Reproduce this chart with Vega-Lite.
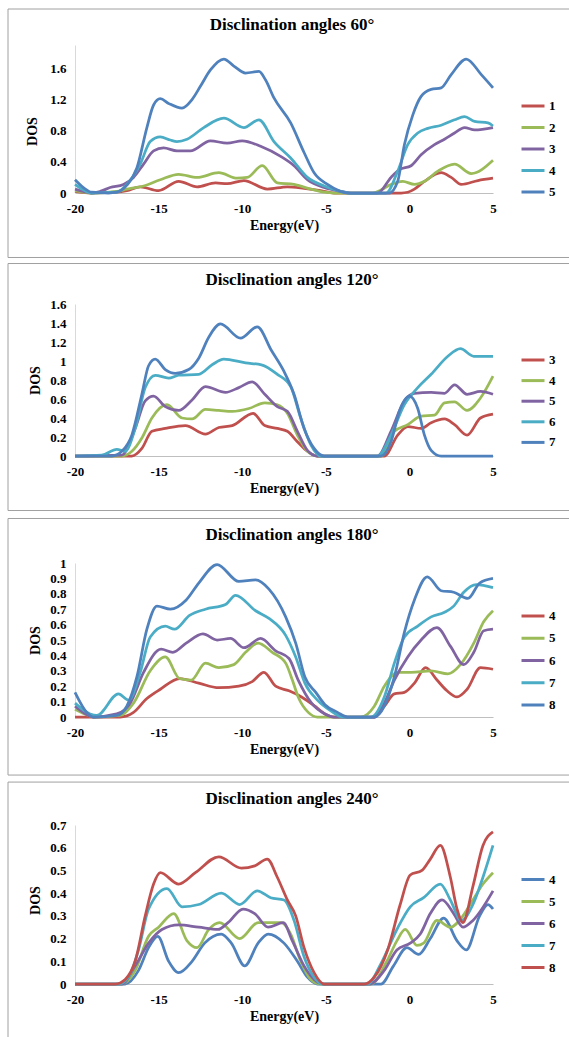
{
"$schema": "https://vega.github.io/schema/vega-lite/v6.json",
"padding": {"left": 7, "top": 8, "right": 0, "bottom": 0},
"background": "white",
"spacing": 5,
"config": {
  "font": "Liberation Serif",
  "view": {"stroke": null},
  "axis": {"grid": false, "ticks": false, "tickSize": 0, "labelFont": "Liberation Serif", "labelFontWeight": "bold", "labelFontSize": 13, "labelColor": "#000", "titleFont": "Liberation Serif", "titleFontWeight": "bold", "titleFontSize": 14, "titleColor": "#000", "domainColor": "#d9d9d9", "labelPadding": 9},
  "axisX": {"titlePadding": 3, "domainColor": "#bfbfbf", "labelFlush": false},
  "title": {"font": "Liberation Serif", "fontSize": 17, "fontWeight": "bold", "color": "#000", "anchor": "middle"},
  "legend": {"orient": "none", "padding": 0, "symbolType": "stroke", "symbolStrokeWidth": 3, "symbolSize": 529, "labelFont": "Liberation Serif", "labelFontWeight": "bold", "labelFontSize": 13, "labelColor": "#000", "labelOffset": 3, "rowPadding": 1.5}
},
"resolve": {"scale": {"color": "independent", "x": "independent", "y": "independent"}, "legend": {"color": "independent"}},
"datasets": {
"p60": [
{"s":"1","e":-20,"v":0.02},{"s":"1","e":-19,"v":0},{"s":"1","e":-17.5,"v":0.01},{"s":"1","e":-16.9,"v":0.03},{"s":"1","e":-16.1,"v":0.08},{"s":"1","e":-15,"v":0.03},{"s":"1","e":-13.8,"v":0.15},{"s":"1","e":-12.7,"v":0.08},{"s":"1","e":-11.6,"v":0.13},{"s":"1","e":-10.9,"v":0.12},{"s":"1","e":-9.9,"v":0.16},{"s":"1","e":-8.5,"v":0.05},{"s":"1","e":-7.3,"v":0.08},{"s":"1","e":-6.3,"v":0.06},{"s":"1","e":-5.3,"v":0.03},{"s":"1","e":-4.5,"v":0},{"s":"1","e":-0.5,"v":0},{"s":"1","e":-0.1,"v":0.01},{"s":"1","e":0.3,"v":0.05},{"s":"1","e":0.9,"v":0.15},{"s":"1","e":1.9,"v":0.26},{"s":"1","e":2.5,"v":0.2},{"s":"1","e":3.1,"v":0.11},{"s":"1","e":4.1,"v":0.16},{"s":"1","e":5,"v":0.19},
{"s":"2","e":-20,"v":0.03},{"s":"2","e":-19,"v":0},{"s":"2","e":-17.5,"v":0.02},{"s":"2","e":-16.9,"v":0.05},{"s":"2","e":-15.9,"v":0.09},{"s":"2","e":-14.9,"v":0.17},{"s":"2","e":-13.8,"v":0.24},{"s":"2","e":-12.7,"v":0.2},{"s":"2","e":-11.4,"v":0.26},{"s":"2","e":-10.3,"v":0.19},{"s":"2","e":-9.7,"v":0.2},{"s":"2","e":-8.8,"v":0.35},{"s":"2","e":-7.9,"v":0.13},{"s":"2","e":-6.9,"v":0.11},{"s":"2","e":-5.9,"v":0.05},{"s":"2","e":-5.1,"v":0.01},{"s":"2","e":-4.5,"v":0},{"s":"2","e":-2.2,"v":0},{"s":"2","e":-1.7,"v":0.04},{"s":"2","e":-1.1,"v":0.11},{"s":"2","e":-0.4,"v":0.15},{"s":"2","e":0.3,"v":0.11},{"s":"2","e":0.9,"v":0.15},{"s":"2","e":1.7,"v":0.28},{"s":"2","e":2.7,"v":0.37},{"s":"2","e":3.7,"v":0.25},{"s":"2","e":5,"v":0.42},
{"s":"3","e":-20,"v":0.05},{"s":"3","e":-19.5,"v":0.02},{"s":"3","e":-19,"v":0},{"s":"3","e":-18.5,"v":0.02},{"s":"3","e":-17.9,"v":0.07},{"s":"3","e":-17.1,"v":0.11},{"s":"3","e":-16.5,"v":0.2},{"s":"3","e":-15.9,"v":0.37},{"s":"3","e":-15.3,"v":0.54},{"s":"3","e":-14.7,"v":0.58},{"s":"3","e":-13.9,"v":0.54},{"s":"3","e":-13.1,"v":0.54},{"s":"3","e":-11.9,"v":0.67},{"s":"3","e":-10.9,"v":0.64},{"s":"3","e":-10,"v":0.67},{"s":"3","e":-8.9,"v":0.6},{"s":"3","e":-7.7,"v":0.47},{"s":"3","e":-6.9,"v":0.35},{"s":"3","e":-6.1,"v":0.17},{"s":"3","e":-5.1,"v":0.07},{"s":"3","e":-4.1,"v":0.02},{"s":"3","e":-3.5,"v":0},{"s":"3","e":-1.9,"v":0},{"s":"3","e":-1.1,"v":0.2},{"s":"3","e":-0.6,"v":0.3},{"s":"3","e":0.1,"v":0.35},{"s":"3","e":0.7,"v":0.49},{"s":"3","e":1.5,"v":0.62},{"s":"3","e":2.1,"v":0.69},{"s":"3","e":2.7,"v":0.77},{"s":"3","e":3.3,"v":0.84},{"s":"3","e":3.9,"v":0.81},{"s":"3","e":5,"v":0.84},
{"s":"4","e":-20,"v":0.11},{"s":"4","e":-19.5,"v":0.04},{"s":"4","e":-19,"v":0},{"s":"4","e":-17.5,"v":0.01},{"s":"4","e":-16.9,"v":0.11},{"s":"4","e":-16.1,"v":0.37},{"s":"4","e":-15.5,"v":0.66},{"s":"4","e":-14.9,"v":0.72},{"s":"4","e":-14.3,"v":0.68},{"s":"4","e":-13.9,"v":0.66},{"s":"4","e":-13.3,"v":0.69},{"s":"4","e":-12.3,"v":0.84},{"s":"4","e":-11.1,"v":0.96},{"s":"4","e":-9.9,"v":0.84},{"s":"4","e":-9,"v":0.94},{"s":"4","e":-8.1,"v":0.66},{"s":"4","e":-7.1,"v":0.45},{"s":"4","e":-6.1,"v":0.2},{"s":"4","e":-5.1,"v":0.09},{"s":"4","e":-4.1,"v":0.02},{"s":"4","e":-3.6,"v":0},{"s":"4","e":-1.4,"v":0},{"s":"4","e":-0.7,"v":0.28},{"s":"4","e":-0.1,"v":0.62},{"s":"4","e":0.5,"v":0.77},{"s":"4","e":1.1,"v":0.83},{"s":"4","e":1.9,"v":0.87},{"s":"4","e":2.7,"v":0.94},{"s":"4","e":3.3,"v":0.98},{"s":"4","e":3.9,"v":0.92},{"s":"4","e":4.7,"v":0.9},{"s":"4","e":5,"v":0.86},
{"s":"5","e":-20,"v":0.17},{"s":"5","e":-19.5,"v":0.07},{"s":"5","e":-19,"v":0.01},{"s":"5","e":-18,"v":0},{"s":"5","e":-17.5,"v":0.01},{"s":"5","e":-16.9,"v":0.1},{"s":"5","e":-16.3,"v":0.32},{"s":"5","e":-15.7,"v":0.84},{"s":"5","e":-15.3,"v":1.13},{"s":"5","e":-14.9,"v":1.21},{"s":"5","e":-14.4,"v":1.15},{"s":"5","e":-13.6,"v":1.09},{"s":"5","e":-13,"v":1.2},{"s":"5","e":-12.5,"v":1.37},{"s":"5","e":-11.9,"v":1.58},{"s":"5","e":-11.1,"v":1.72},{"s":"5","e":-10.5,"v":1.63},{"s":"5","e":-9.8,"v":1.54},{"s":"5","e":-9,"v":1.56},{"s":"5","e":-8.6,"v":1.45},{"s":"5","e":-8.1,"v":1.22},{"s":"5","e":-7.1,"v":0.9},{"s":"5","e":-6.3,"v":0.52},{"s":"5","e":-5.7,"v":0.26},{"s":"5","e":-4.9,"v":0.11},{"s":"5","e":-4.1,"v":0.02},{"s":"5","e":-3.7,"v":0},{"s":"5","e":-1.2,"v":0},{"s":"5","e":-0.7,"v":0.15},{"s":"5","e":-0.3,"v":0.62},{"s":"5","e":0.2,"v":1},{"s":"5","e":0.7,"v":1.24},{"s":"5","e":1.3,"v":1.33},{"s":"5","e":1.9,"v":1.35},{"s":"5","e":2.5,"v":1.52},{"s":"5","e":3.4,"v":1.72},{"s":"5","e":4.3,"v":1.52},{"s":"5","e":5,"v":1.35}
],
"p120": [
{"s":"3","e":-20,"v":0},{"s":"3","e":-16.6,"v":0},{"s":"3","e":-16,"v":0.08},{"s":"3","e":-15.4,"v":0.26},{"s":"3","e":-14.6,"v":0.29},{"s":"3","e":-13.4,"v":0.32},{"s":"3","e":-12.2,"v":0.23},{"s":"3","e":-11.4,"v":0.3},{"s":"3","e":-10.6,"v":0.32},{"s":"3","e":-9.35,"v":0.45},{"s":"3","e":-8.65,"v":0.32},{"s":"3","e":-7.9,"v":0.29},{"s":"3","e":-7.3,"v":0.26},{"s":"3","e":-6.7,"v":0.15},{"s":"3","e":-6.1,"v":0.05},{"s":"3","e":-5.5,"v":0},{"s":"3","e":-1.5,"v":0},{"s":"3","e":-0.7,"v":0.22},{"s":"3","e":-0.1,"v":0.31},{"s":"3","e":0.7,"v":0.29},{"s":"3","e":1.3,"v":0.35},{"s":"3","e":2.1,"v":0.39},{"s":"3","e":2.7,"v":0.33},{"s":"3","e":3.45,"v":0.22},{"s":"3","e":4.25,"v":0.4},{"s":"3","e":5,"v":0.44},
{"s":"4","e":-20,"v":0},{"s":"4","e":-17.2,"v":0},{"s":"4","e":-16.6,"v":0.05},{"s":"4","e":-16,"v":0.19},{"s":"4","e":-15.4,"v":0.4},{"s":"4","e":-14.5,"v":0.54},{"s":"4","e":-13.6,"v":0.4},{"s":"4","e":-13,"v":0.39},{"s":"4","e":-12.2,"v":0.49},{"s":"4","e":-11.4,"v":0.48},{"s":"4","e":-10.6,"v":0.47},{"s":"4","e":-9.6,"v":0.5},{"s":"4","e":-8.65,"v":0.56},{"s":"4","e":-7.9,"v":0.54},{"s":"4","e":-7.3,"v":0.45},{"s":"4","e":-6.7,"v":0.22},{"s":"4","e":-6.1,"v":0.05},{"s":"4","e":-5.5,"v":0},{"s":"4","e":-1.7,"v":0},{"s":"4","e":-0.9,"v":0.26},{"s":"4","e":-0.1,"v":0.33},{"s":"4","e":0.7,"v":0.42},{"s":"4","e":1.5,"v":0.43},{"s":"4","e":2.1,"v":0.56},{"s":"4","e":2.7,"v":0.57},{"s":"4","e":3.45,"v":0.48},{"s":"4","e":4.25,"v":0.61},{"s":"4","e":5,"v":0.84},
{"s":"5","e":-20,"v":0},{"s":"5","e":-17.2,"v":0.01},{"s":"5","e":-16.4,"v":0.29},{"s":"5","e":-15.8,"v":0.58},{"s":"5","e":-15.3,"v":0.63},{"s":"5","e":-14.6,"v":0.52},{"s":"5","e":-13.8,"v":0.48},{"s":"5","e":-13,"v":0.59},{"s":"5","e":-12.2,"v":0.73},{"s":"5","e":-11,"v":0.67},{"s":"5","e":-10.2,"v":0.72},{"s":"5","e":-9.4,"v":0.78},{"s":"5","e":-8.65,"v":0.65},{"s":"5","e":-7.9,"v":0.52},{"s":"5","e":-7.3,"v":0.47},{"s":"5","e":-6.7,"v":0.26},{"s":"5","e":-6.1,"v":0.06},{"s":"5","e":-5.5,"v":0},{"s":"5","e":-1.9,"v":0},{"s":"5","e":-1.1,"v":0.26},{"s":"5","e":-0.3,"v":0.58},{"s":"5","e":0.3,"v":0.66},{"s":"5","e":1.3,"v":0.67},{"s":"5","e":2.1,"v":0.66},{"s":"5","e":2.7,"v":0.75},{"s":"5","e":3.45,"v":0.65},{"s":"5","e":4.25,"v":0.68},{"s":"5","e":5,"v":0.65},
{"s":"6","e":-20,"v":0},{"s":"6","e":-18.4,"v":0.01},{"s":"6","e":-17.5,"v":0.07},{"s":"6","e":-17,"v":0.05},{"s":"6","e":-16.4,"v":0.29},{"s":"6","e":-15.8,"v":0.72},{"s":"6","e":-15.2,"v":0.85},{"s":"6","e":-14.4,"v":0.82},{"s":"6","e":-13.8,"v":0.85},{"s":"6","e":-12.6,"v":0.86},{"s":"6","e":-11.8,"v":0.96},{"s":"6","e":-11.1,"v":1.02},{"s":"6","e":-9.8,"v":0.98},{"s":"6","e":-8.85,"v":0.96},{"s":"6","e":-7.9,"v":0.86},{"s":"6","e":-7.1,"v":0.73},{"s":"6","e":-6.5,"v":0.4},{"s":"6","e":-5.9,"v":0.12},{"s":"6","e":-5.3,"v":0},{"s":"6","e":-1.9,"v":0},{"s":"6","e":-1.1,"v":0.22},{"s":"6","e":-0.3,"v":0.54},{"s":"6","e":0.5,"v":0.72},{"s":"6","e":1.3,"v":0.86},{"s":"6","e":2.3,"v":1.05},{"s":"6","e":3.05,"v":1.13},{"s":"6","e":3.85,"v":1.05},{"s":"6","e":5,"v":1.05},
{"s":"7","e":-20,"v":0},{"s":"7","e":-17.8,"v":0},{"s":"7","e":-17.2,"v":0.05},{"s":"7","e":-16.6,"v":0.22},{"s":"7","e":-16,"v":0.65},{"s":"7","e":-15.6,"v":0.95},{"s":"7","e":-15.2,"v":1.02},{"s":"7","e":-14.6,"v":0.91},{"s":"7","e":-14,"v":0.87},{"s":"7","e":-13.2,"v":0.91},{"s":"7","e":-12.6,"v":1.03},{"s":"7","e":-12,"v":1.25},{"s":"7","e":-11.3,"v":1.39},{"s":"7","e":-10.1,"v":1.24},{"s":"7","e":-9.1,"v":1.36},{"s":"7","e":-8.25,"v":1.11},{"s":"7","e":-7.5,"v":0.89},{"s":"7","e":-6.9,"v":0.65},{"s":"7","e":-6.3,"v":0.29},{"s":"7","e":-5.7,"v":0.08},{"s":"7","e":-5.1,"v":0},{"s":"7","e":-1.7,"v":0},{"s":"7","e":-1.1,"v":0.15},{"s":"7","e":-0.6,"v":0.47},{"s":"7","e":0,"v":0.63},{"s":"7","e":0.5,"v":0.5},{"s":"7","e":0.9,"v":0.22},{"s":"7","e":1.3,"v":0.06},{"s":"7","e":1.9,"v":0},{"s":"7","e":5,"v":0}
],
"p180": [
{"s":"4","e":-20,"v":0},{"s":"4","e":-17.3,"v":0},{"s":"4","e":-16.5,"v":0.03},{"s":"4","e":-15.7,"v":0.12},{"s":"4","e":-14.9,"v":0.18},{"s":"4","e":-13.75,"v":0.25},{"s":"4","e":-12.6,"v":0.22},{"s":"4","e":-11.4,"v":0.19},{"s":"4","e":-10.2,"v":0.2},{"s":"4","e":-9.4,"v":0.23},{"s":"4","e":-8.7,"v":0.29},{"s":"4","e":-8,"v":0.2},{"s":"4","e":-7.2,"v":0.17},{"s":"4","e":-6.45,"v":0.13},{"s":"4","e":-5.65,"v":0.07},{"s":"4","e":-5.05,"v":0.02},{"s":"4","e":-4.5,"v":0},{"s":"4","e":-2.1,"v":0},{"s":"4","e":-1.5,"v":0.07},{"s":"4","e":-0.9,"v":0.15},{"s":"4","e":-0.3,"v":0.16},{"s":"4","e":0.3,"v":0.22},{"s":"4","e":0.97,"v":0.32},{"s":"4","e":1.65,"v":0.24},{"s":"4","e":2.25,"v":0.17},{"s":"4","e":2.85,"v":0.13},{"s":"4","e":3.45,"v":0.18},{"s":"4","e":4.25,"v":0.32},{"s":"4","e":5,"v":0.31},
{"s":"5","e":-20,"v":0.05},{"s":"5","e":-19.2,"v":0.01},{"s":"5","e":-18.9,"v":0},{"s":"5","e":-17.3,"v":0.01},{"s":"5","e":-16.5,"v":0.09},{"s":"5","e":-15.5,"v":0.3},{"s":"5","e":-14.6,"v":0.39},{"s":"5","e":-13.75,"v":0.25},{"s":"5","e":-13.05,"v":0.24},{"s":"5","e":-12.2,"v":0.35},{"s":"5","e":-11.4,"v":0.32},{"s":"5","e":-10.5,"v":0.34},{"s":"5","e":-9.8,"v":0.42},{"s":"5","e":-9.05,"v":0.48},{"s":"5","e":-8.2,"v":0.42},{"s":"5","e":-7.4,"v":0.35},{"s":"5","e":-7,"v":0.24},{"s":"5","e":-6.65,"v":0.13},{"s":"5","e":-6.05,"v":0.03},{"s":"5","e":-5.5,"v":0},{"s":"5","e":-2.9,"v":0},{"s":"5","e":-2.1,"v":0.07},{"s":"5","e":-1.5,"v":0.2},{"s":"5","e":-0.7,"v":0.29},{"s":"5","e":0.1,"v":0.29},{"s":"5","e":1.3,"v":0.3},{"s":"5","e":2.3,"v":0.28},{"s":"5","e":3.05,"v":0.34},{"s":"5","e":3.85,"v":0.48},{"s":"5","e":4.45,"v":0.62},{"s":"5","e":5,"v":0.69},
{"s":"6","e":-20,"v":0.07},{"s":"6","e":-19.2,"v":0.01},{"s":"6","e":-18.9,"v":0},{"s":"6","e":-17.5,"v":0.02},{"s":"6","e":-16.7,"v":0.09},{"s":"6","e":-15.9,"v":0.29},{"s":"6","e":-14.85,"v":0.44},{"s":"6","e":-14.15,"v":0.42},{"s":"6","e":-13.35,"v":0.48},{"s":"6","e":-12.35,"v":0.54},{"s":"6","e":-11.5,"v":0.5},{"s":"6","e":-10.7,"v":0.51},{"s":"6","e":-9.9,"v":0.45},{"s":"6","e":-8.9,"v":0.51},{"s":"6","e":-8,"v":0.43},{"s":"6","e":-7.2,"v":0.38},{"s":"6","e":-6.65,"v":0.24},{"s":"6","e":-5.85,"v":0.09},{"s":"6","e":-5.05,"v":0.02},{"s":"6","e":-4.5,"v":0},{"s":"6","e":-2.1,"v":0},{"s":"6","e":-1.5,"v":0.09},{"s":"6","e":-0.9,"v":0.24},{"s":"6","e":-0.1,"v":0.39},{"s":"6","e":0.7,"v":0.5},{"s":"6","e":1.65,"v":0.58},{"s":"6","e":2.45,"v":0.46},{"s":"6","e":3.25,"v":0.34},{"s":"6","e":3.85,"v":0.42},{"s":"6","e":4.45,"v":0.56},{"s":"6","e":5,"v":0.57},
{"s":"7","e":-20,"v":0.09},{"s":"7","e":-19.1,"v":0.02},{"s":"7","e":-18.7,"v":0.01},{"s":"7","e":-17.4,"v":0.15},{"s":"7","e":-16.8,"v":0.11},{"s":"7","e":-16.1,"v":0.29},{"s":"7","e":-15.5,"v":0.52},{"s":"7","e":-14.6,"v":0.59},{"s":"7","e":-14.05,"v":0.57},{"s":"7","e":-13.15,"v":0.66},{"s":"7","e":-12.2,"v":0.7},{"s":"7","e":-11,"v":0.73},{"s":"7","e":-10.4,"v":0.79},{"s":"7","e":-9.2,"v":0.69},{"s":"7","e":-8.4,"v":0.64},{"s":"7","e":-7.4,"v":0.53},{"s":"7","e":-6.8,"v":0.39},{"s":"7","e":-6.25,"v":0.22},{"s":"7","e":-5.5,"v":0.11},{"s":"7","e":-4.7,"v":0.04},{"s":"7","e":-4,"v":0},{"s":"7","e":-2.3,"v":0},{"s":"7","e":-1.5,"v":0.13},{"s":"7","e":-0.9,"v":0.35},{"s":"7","e":-0.3,"v":0.52},{"s":"7","e":0.5,"v":0.59},{"s":"7","e":1.3,"v":0.65},{"s":"7","e":2.1,"v":0.68},{"s":"7","e":2.65,"v":0.72},{"s":"7","e":3.25,"v":0.81},{"s":"7","e":4,"v":0.86},{"s":"7","e":5,"v":0.84},
{"s":"8","e":-20,"v":0.16},{"s":"8","e":-19.3,"v":0.03},{"s":"8","e":-18.9,"v":0},{"s":"8","e":-17.5,"v":0.01},{"s":"8","e":-16.9,"v":0.07},{"s":"8","e":-16.3,"v":0.26},{"s":"8","e":-15.7,"v":0.57},{"s":"8","e":-15.1,"v":0.72},{"s":"8","e":-14.3,"v":0.7},{"s":"8","e":-13.35,"v":0.76},{"s":"8","e":-12.6,"v":0.87},{"s":"8","e":-11.5,"v":0.99},{"s":"8","e":-10.2,"v":0.88},{"s":"8","e":-9.2,"v":0.89},{"s":"8","e":-8.4,"v":0.83},{"s":"8","e":-7.4,"v":0.65},{"s":"8","e":-6.8,"v":0.48},{"s":"8","e":-6.25,"v":0.26},{"s":"8","e":-5.6,"v":0.16},{"s":"8","e":-5.05,"v":0.08},{"s":"8","e":-4.3,"v":0.03},{"s":"8","e":-3.7,"v":0},{"s":"8","e":-2.1,"v":0},{"s":"8","e":-1.5,"v":0.07},{"s":"8","e":-0.9,"v":0.26},{"s":"8","e":-0.3,"v":0.55},{"s":"8","e":0.3,"v":0.76},{"s":"8","e":1.07,"v":0.91},{"s":"8","e":1.9,"v":0.82},{"s":"8","e":2.65,"v":0.81},{"s":"8","e":3.5,"v":0.77},{"s":"8","e":4.2,"v":0.87},{"s":"8","e":5,"v":0.9}
],
"p240": [
{"s":"4","e":-20,"v":0},{"s":"4","e":-17,"v":0},{"s":"4","e":-16.2,"v":0.06},{"s":"4","e":-15.6,"v":0.16},{"s":"4","e":-15.05,"v":0.21},{"s":"4","e":-14.4,"v":0.1},{"s":"4","e":-13.8,"v":0.05},{"s":"4","e":-13,"v":0.1},{"s":"4","e":-12.25,"v":0.18},{"s":"4","e":-11.25,"v":0.22},{"s":"4","e":-10.65,"v":0.18},{"s":"4","e":-9.85,"v":0.08},{"s":"4","e":-9.05,"v":0.18},{"s":"4","e":-8.45,"v":0.22},{"s":"4","e":-7.5,"v":0.18},{"s":"4","e":-6.7,"v":0.1},{"s":"4","e":-6.1,"v":0.03},{"s":"4","e":-5.5,"v":0},{"s":"4","e":-1.7,"v":0},{"s":"4","e":-0.95,"v":0.08},{"s":"4","e":-0.15,"v":0.16},{"s":"4","e":0.55,"v":0.13},{"s":"4","e":1.25,"v":0.2},{"s":"4","e":2.05,"v":0.29},{"s":"4","e":2.85,"v":0.19},{"s":"4","e":3.4,"v":0.15},{"s":"4","e":4.2,"v":0.3},{"s":"4","e":4.7,"v":0.35},{"s":"4","e":5,"v":0.33},
{"s":"5","e":-20,"v":0},{"s":"5","e":-17.2,"v":0},{"s":"5","e":-16.4,"v":0.06},{"s":"5","e":-15.6,"v":0.21},{"s":"5","e":-15,"v":0.25},{"s":"5","e":-14.1,"v":0.31},{"s":"5","e":-13.3,"v":0.19},{"s":"5","e":-12.7,"v":0.16},{"s":"5","e":-12,"v":0.24},{"s":"5","e":-11.35,"v":0.27},{"s":"5","e":-10.15,"v":0.2},{"s":"5","e":-9.05,"v":0.27},{"s":"5","e":-7.65,"v":0.27},{"s":"5","e":-7.1,"v":0.22},{"s":"5","e":-6.5,"v":0.1},{"s":"5","e":-5.9,"v":0.02},{"s":"5","e":-5.3,"v":0},{"s":"5","e":-2.3,"v":0},{"s":"5","e":-1.35,"v":0.1},{"s":"5","e":-0.75,"v":0.19},{"s":"5","e":-0.25,"v":0.24},{"s":"5","e":0.45,"v":0.17},{"s":"5","e":0.85,"v":0.18},{"s":"5","e":1.65,"v":0.28},{"s":"5","e":2.45,"v":0.25},{"s":"5","e":3.2,"v":0.3},{"s":"5","e":3.8,"v":0.37},{"s":"5","e":4.4,"v":0.44},{"s":"5","e":5,"v":0.49},
{"s":"6","e":-20,"v":0},{"s":"6","e":-17.2,"v":0},{"s":"6","e":-16.4,"v":0.08},{"s":"6","e":-15.6,"v":0.18},{"s":"6","e":-14.8,"v":0.24},{"s":"6","e":-13.8,"v":0.26},{"s":"6","e":-12.6,"v":0.25},{"s":"6","e":-11.45,"v":0.24},{"s":"6","e":-10.85,"v":0.27},{"s":"6","e":-9.95,"v":0.33},{"s":"6","e":-9.25,"v":0.31},{"s":"6","e":-8.45,"v":0.25},{"s":"6","e":-7.55,"v":0.27},{"s":"6","e":-7,"v":0.19},{"s":"6","e":-6.3,"v":0.08},{"s":"6","e":-5.7,"v":0.02},{"s":"6","e":-5.1,"v":0},{"s":"6","e":-2.4,"v":0},{"s":"6","e":-1.5,"v":0.06},{"s":"6","e":-0.75,"v":0.15},{"s":"6","e":0.05,"v":0.18},{"s":"6","e":0.65,"v":0.22},{"s":"6","e":1.25,"v":0.31},{"s":"6","e":1.95,"v":0.37},{"s":"6","e":2.65,"v":0.31},{"s":"6","e":3.2,"v":0.25},{"s":"6","e":3.8,"v":0.28},{"s":"6","e":5,"v":0.41},
{"s":"7","e":-20,"v":0},{"s":"7","e":-17.4,"v":0},{"s":"7","e":-16.8,"v":0.03},{"s":"7","e":-16.2,"v":0.15},{"s":"7","e":-15.6,"v":0.33},{"s":"7","e":-14.5,"v":0.42},{"s":"7","e":-13.6,"v":0.34},{"s":"7","e":-12.6,"v":0.35},{"s":"7","e":-11.25,"v":0.4},{"s":"7","e":-10.15,"v":0.35},{"s":"7","e":-9.1,"v":0.41},{"s":"7","e":-8.3,"v":0.38},{"s":"7","e":-7.5,"v":0.37},{"s":"7","e":-6.9,"v":0.28},{"s":"7","e":-6.3,"v":0.12},{"s":"7","e":-5.7,"v":0.03},{"s":"7","e":-5.2,"v":0},{"s":"7","e":-2.5,"v":0},{"s":"7","e":-1.7,"v":0.09},{"s":"7","e":-0.75,"v":0.24},{"s":"7","e":0.05,"v":0.34},{"s":"7","e":0.85,"v":0.38},{"s":"7","e":1.85,"v":0.44},{"s":"7","e":2.45,"v":0.37},{"s":"7","e":3.1,"v":0.28},{"s":"7","e":3.8,"v":0.35},{"s":"7","e":4.4,"v":0.47},{"s":"7","e":5,"v":0.61},
{"s":"8","e":-20,"v":0},{"s":"8","e":-17.6,"v":0},{"s":"8","e":-17,"v":0.02},{"s":"8","e":-16.4,"v":0.1},{"s":"8","e":-15.8,"v":0.3},{"s":"8","e":-15.3,"v":0.44},{"s":"8","e":-14.9,"v":0.49},{"s":"8","e":-13.8,"v":0.44},{"s":"8","e":-12.8,"v":0.49},{"s":"8","e":-11.4,"v":0.56},{"s":"8","e":-10.05,"v":0.51},{"s":"8","e":-9.25,"v":0.52},{"s":"8","e":-8.5,"v":0.55},{"s":"8","e":-7.9,"v":0.47},{"s":"8","e":-7.3,"v":0.37},{"s":"8","e":-6.8,"v":0.3},{"s":"8","e":-6.3,"v":0.16},{"s":"8","e":-5.7,"v":0.05},{"s":"8","e":-5.1,"v":0},{"s":"8","e":-2.7,"v":0},{"s":"8","e":-2.1,"v":0.03},{"s":"8","e":-1.3,"v":0.15},{"s":"8","e":-0.55,"v":0.35},{"s":"8","e":0.05,"v":0.48},{"s":"8","e":0.75,"v":0.5},{"s":"8","e":1.25,"v":0.55},{"s":"8","e":1.85,"v":0.61},{"s":"8","e":2.45,"v":0.47},{"s":"8","e":2.85,"v":0.33},{"s":"8","e":3.2,"v":0.27},{"s":"8","e":3.8,"v":0.43},{"s":"8","e":4.4,"v":0.61},{"s":"8","e":5,"v":0.67}
]
},
"vconcat": [
{
  "title": {"text": "Disclination angles 60°", "offset": 0, "dx": 8, "dy": 33.5, "baseline": "middle"},
  "width": 418, "height": 148,
  "layer": [
    {"data": {"values": [{}]}, "mark": {"type": "rect", "fill": "white", "fillOpacity": 0, "stroke": "#a0a0a0", "strokeWidth": 1},
     "encoding": {"x": {"datum": -24.007, "type": "quantitative", "scale": {"domain": [-20, 5], "nice": false, "zero": false}, "axis": {"title": "Energy(eV)", "values": [-20, -15, -10, -5, 0, 5], "labelExpr": "datum.value < 0 ? '-' + abs(datum.value) : '' + datum.value"}}, "x2": {"datum": 9.94},
                  "y": {"datum": 2.362, "type": "quantitative", "scale": {"domain": [0, 1.9], "nice": false, "zero": false}, "axis": {"title": "DOS", "values": [0, 0.4, 0.8, 1.2, 1.6], "format": "~g", "titleX": -43, "titleY": 86, "titleBaseline": "middle"}}, "y2": {"datum": -0.828}}},
    {"data": {"name": "p60"}, "mark": {"type": "line", "interpolate": "monotone", "strokeWidth": 2.75},
     "encoding": {
       "x": {"field": "e", "type": "quantitative", "scale": {"domain": [-20, 5], "nice": false, "zero": false}, "axis": {"title": "Energy(eV)", "values": [-20, -15, -10, -5, 0, 5], "labelExpr": "datum.value < 0 ? '-' + abs(datum.value) : '' + datum.value"}},
       "y": {"field": "v", "type": "quantitative", "scale": {"domain": [0, 1.9], "nice": false, "zero": false}, "axis": {"title": "DOS", "values": [0, 0.4, 0.8, 1.2, 1.6], "format": "~g", "titleX": -43, "titleY": 86, "titleBaseline": "middle"}},
       "color": {"field": "s", "type": "nominal", "scale": {"domain": ["1", "2", "3", "4", "5"], "range": ["#C0504D", "#9BBB59", "#8064A2", "#4BACC6", "#4F81BD"]}, "legend": {"title": null, "legendX": 445, "legendY": 48, "rowPadding": 1.5}}
     }}
  ]
},
{
  "title": {"text": "Disclination angles 120°", "offset": 0, "dx": 8, "dy": 34.2, "baseline": "middle"},
  "width": 418, "height": 152,
  "layer": [
    {"data": {"values": [{}]}, "mark": {"type": "rect", "fill": "white", "fillOpacity": 0, "stroke": "#a0a0a0", "strokeWidth": 1},
     "encoding": {"x": {"datum": -24.007, "type": "quantitative", "scale": {"domain": [-20, 5], "nice": false, "zero": false}, "axis": {"title": "Energy(eV)", "values": [-20, -15, -10, -5, 0, 5], "labelExpr": "datum.value < 0 ? '-' + abs(datum.value) : '' + datum.value"}}, "x2": {"datum": 9.94},
                  "y": {"datum": 2.026, "type": "quantitative", "scale": {"domain": [0, 1.6], "nice": false, "zero": false}, "axis": {"title": "DOS", "values": [0, 0.2, 0.4, 0.6, 0.8, 1, 1.2, 1.4, 1.6], "format": "~g", "titleX": -40, "titleY": 76, "titleBaseline": "middle"}}, "y2": {"datum": -0.574}}},
    {"data": {"name": "p120"}, "mark": {"type": "line", "interpolate": "monotone", "strokeWidth": 2.75},
     "encoding": {
       "x": {"field": "e", "type": "quantitative", "scale": {"domain": [-20, 5], "nice": false, "zero": false}, "axis": {"title": "Energy(eV)", "values": [-20, -15, -10, -5, 0, 5], "labelExpr": "datum.value < 0 ? '-' + abs(datum.value) : '' + datum.value"}},
       "y": {"field": "v", "type": "quantitative", "scale": {"domain": [0, 1.6], "nice": false, "zero": false}, "axis": {"title": "DOS", "values": [0, 0.2, 0.4, 0.6, 0.8, 1, 1.2, 1.4, 1.6], "format": "~g", "titleX": -40, "titleY": 76, "titleBaseline": "middle"}},
       "color": {"field": "s", "type": "nominal", "scale": {"domain": ["3", "4", "5", "6", "7"], "range": ["#C0504D", "#9BBB59", "#8064A2", "#4BACC6", "#4F81BD"]}, "legend": {"title": null, "legendX": 445, "legendY": 43, "rowPadding": 0.6}}
     }}
  ]
},
{
  "title": {"text": "Disclination angles 180°", "offset": 0, "dx": 8, "dy": 34.2, "baseline": "middle"},
  "width": 418, "height": 154,
  "layer": [
    {"data": {"values": [{}]}, "mark": {"type": "rect", "fill": "white", "fillOpacity": 0, "stroke": "#a0a0a0", "strokeWidth": 1},
     "encoding": {"x": {"datum": -24.007, "type": "quantitative", "scale": {"domain": [-20, 5], "nice": false, "zero": false}, "axis": {"title": "Energy(eV)", "values": [-20, -15, -10, -5, 0, 5], "labelExpr": "datum.value < 0 ? '-' + abs(datum.value) : '' + datum.value"}}, "x2": {"datum": 9.94},
                  "y": {"datum": 1.289, "type": "quantitative", "scale": {"domain": [0, 1], "nice": false, "zero": false}, "axis": {"title": "DOS", "values": [0, 0.1, 0.2, 0.3, 0.4, 0.5, 0.6, 0.7, 0.8, 0.9, 1], "format": "~g", "titleX": -40, "titleY": 77, "titleBaseline": "middle"}}, "y2": {"datum": -0.377}}},
    {"data": {"name": "p180"}, "mark": {"type": "line", "interpolate": "monotone", "strokeWidth": 2.75},
     "encoding": {
       "x": {"field": "e", "type": "quantitative", "scale": {"domain": [-20, 5], "nice": false, "zero": false}, "axis": {"title": "Energy(eV)", "values": [-20, -15, -10, -5, 0, 5], "labelExpr": "datum.value < 0 ? '-' + abs(datum.value) : '' + datum.value"}},
       "y": {"field": "v", "type": "quantitative", "scale": {"domain": [0, 1], "nice": false, "zero": false}, "axis": {"title": "DOS", "values": [0, 0.1, 0.2, 0.3, 0.4, 0.5, 0.6, 0.7, 0.8, 0.9, 1], "format": "~g", "titleX": -40, "titleY": 77, "titleBaseline": "middle"}},
       "color": {"field": "s", "type": "nominal", "scale": {"domain": ["4", "5", "6", "7", "8"], "range": ["#C0504D", "#9BBB59", "#8064A2", "#4BACC6", "#4F81BD"]}, "legend": {"title": null, "legendX": 445, "legendY": 40, "rowPadding": 2.25}}
     }}
  ]
},
{
  "title": {"text": "Disclination angles 240°", "offset": 0, "dx": 8, "dy": 34.5, "baseline": "middle"},
  "width": 418, "height": 159,
  "layer": [
    {"data": {"values": [{}]}, "mark": {"type": "rect", "fill": "white", "fillOpacity": 0, "stroke": "#a0a0a0", "strokeWidth": 1},
     "encoding": {"x": {"datum": -24.007, "type": "quantitative", "scale": {"domain": [-20, 5], "nice": false, "zero": false}, "axis": {"title": "Energy(eV)", "values": [-20, -15, -10, -5, 0, 5], "labelExpr": "datum.value < 0 ? '-' + abs(datum.value) : '' + datum.value"}}, "x2": {"datum": 9.94},
                  "y": {"datum": 0.889, "type": "quantitative", "scale": {"domain": [0, 0.7], "nice": false, "zero": false}, "axis": {"title": "DOS", "values": [0, 0.1, 0.2, 0.3, 0.4, 0.5, 0.6, 0.7], "format": "~g", "titleX": -40, "titleY": 75, "titleBaseline": "middle"}}, "y2": {"datum": -0.282}}},
    {"data": {"name": "p240"}, "mark": {"type": "line", "interpolate": "monotone", "strokeWidth": 2.75},
     "encoding": {
       "x": {"field": "e", "type": "quantitative", "scale": {"domain": [-20, 5], "nice": false, "zero": false}, "axis": {"title": "Energy(eV)", "values": [-20, -15, -10, -5, 0, 5], "labelExpr": "datum.value < 0 ? '-' + abs(datum.value) : '' + datum.value"}},
       "y": {"field": "v", "type": "quantitative", "scale": {"domain": [0, 0.7], "nice": false, "zero": false}, "axis": {"title": "DOS", "values": [0, 0.1, 0.2, 0.3, 0.4, 0.5, 0.6, 0.7], "format": "~g", "titleX": -40, "titleY": 75, "titleBaseline": "middle"}},
       "color": {"field": "s", "type": "nominal", "scale": {"domain": ["4", "5", "6", "7", "8"], "range": ["#4F81BD", "#9BBB59", "#8064A2", "#4BACC6", "#C0504D"]}, "legend": {"title": null, "legendX": 445, "legendY": 41.5, "rowPadding": 2}}
     }}
  ]
}
]
}
